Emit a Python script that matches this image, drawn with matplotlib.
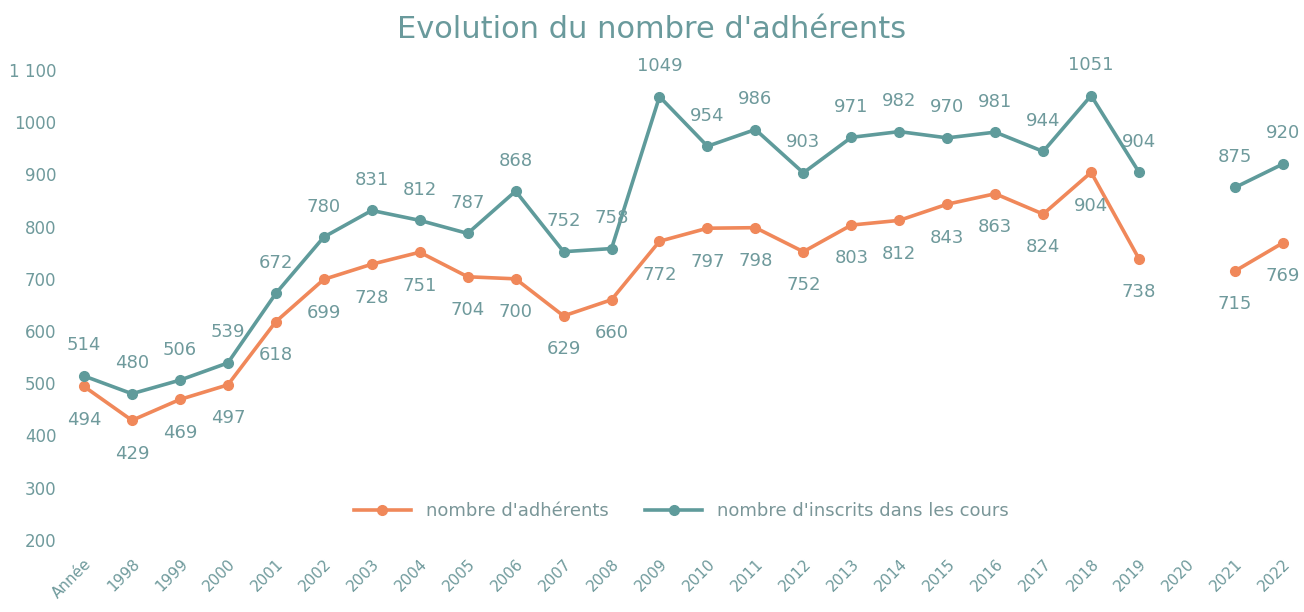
import numpy as np
import matplotlib.pyplot as plt

categories = ["Année", "1998", "1999", "2000", "2001", "2002", "2003", "2004", "2005",
              "2006", "2007", "2008", "2009", "2010", "2011", "2012", "2013", "2014",
              "2015", "2016", "2017", "2018", "2019", "2020", "2021", "2022"]
adherents = [494, 429, 469, 497, 618, 699, 728, 751, 704, 700, 629, 660, 772, 797,
             798, 752, 803, 812, 843, 863, 824, 904, 738, np.nan, 715, 769]
inscrits = [514, 480, 506, 539, 672, 780, 831, 812, 787, 868, 752, 758, 1049, 954,
            986, 903, 971, 982, 970, 981, 944, 1051, 904, np.nan, 875, 920]
yticks = [200, 300, 400, 500, 600, 700, 800, 900, 1000, 1100]
ytick_labels = ["200", "300", "400", "500", "600", "700", "800", "900", "1000", "1 100"]

orange = "#F0885A"
teal = "#5F9B9B"
label_col = "#6F9A9C"

fig = plt.figure(figsize=(13.04, 6.12), dpi=100)
ax = fig.add_axes([0.0497, 0.1007, 0.9452, 0.802])

x = np.arange(len(categories))
ax.plot(x, adherents, color=orange, lw=2.6, marker="o", ms=7, label="nombre d'adhérents")
ax.plot(x, inscrits, color=teal, lw=2.6, marker="o", ms=7, label="nombre d'inscrits dans les cours")

for xi, a, b in zip(x, adherents, inscrits):
    if not np.isnan(b):
        ax.annotate(f"{int(b)}", (xi, b), xytext=(0, 22), textcoords="offset points",
                    ha="center", va="center", fontsize=13, color=label_col)
    if not np.isnan(a):
        ax.annotate(f"{int(a)}", (xi, a), xytext=(0, -24), textcoords="offset points",
                    ha="center", va="center", fontsize=13, color=label_col)

ax.set_xlim(-0.4, 25.3)
ax.set_ylim(180, 1120)
ax.set_yticks(yticks)
ax.set_yticklabels(ytick_labels)
ax.set_xticks(x)
ax.set_xticklabels(categories, rotation=45, ha="right", rotation_mode="anchor")
ax.tick_params(axis="y", length=0, labelsize=12, labelcolor=label_col, pad=6)
ax.tick_params(axis="x", length=0, labelsize=11, labelcolor=label_col, pad=4)
for s in ax.spines.values():
    s.set_visible(False)

fig.suptitle("Evolution du nombre d'adhérents", y=0.951, va="center", fontsize=22,
             color="#6A9A9C")
ax.legend(loc="center", bbox_to_anchor=(0.5, 0.08), ncol=2, frameon=False,
          fontsize=13, labelcolor="#7A9698", handlelength=3.2, columnspacing=2.0)

fig.savefig("out.png", dpi=100)
